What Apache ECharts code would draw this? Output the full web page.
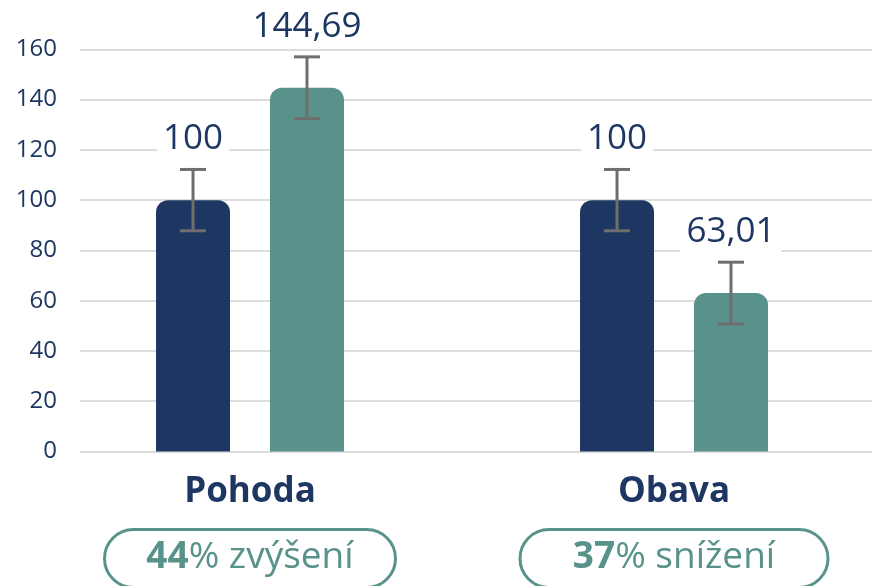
<!DOCTYPE html>
<html><head><meta charset="utf-8">
<script src="https://cdn.jsdelivr.net/npm/echarts@6/dist/echarts.min.js"></script>
<style>html,body{margin:0;padding:0;background:#fff}#c{width:872px;height:586px}</style>
</head><body><div id="c"></div>
<script>
// ---- data ----
const categories = ['Pohoda', 'Obava'];
const valuesA = [100, 100];
const valuesB = [144.69, 63.01];
const errA = [12.2, 12.2];
const errB = [12.3, 12.3];
const labelsA = ['100', '100'];
const labelsB = ['144,69', '63,01'];
const yTicks = [0, 20, 40, 60, 80, 100, 120, 140, 160];
const changeNumber = ['44', '37'];
const changeText = ['% zvýšení', '% snížení'];

// ---- style ----
const NAVY = '#1e3762';
const TEAL = '#58928b';
const FONT = '"Open Sans", "Noto Sans", sans-serif';
const BAR_W = 74;
const BAR_GAP = 0.54;
const OFFSET = BAR_W * (1 + BAR_GAP) / 2;
const PILL_W = [291, 308];
// category band of 424px, first centre at 250px: x axis spans -0.5 .. 1.467 over 834px
const X_MIN = -0.5, X_MAX = -0.5 + 834 / 424;

const chart = echarts.init(document.getElementById('c'), null, {renderer: 'canvas'});

function barSeries(values, color, sign) {
  return {
    type: 'custom', xAxisIndex: 1, yAxisIndex: 1, clip: false, z: 3,
    data: values.map((v, i) => [i, v]),
    renderItem: function (params, api) {
      const i = api.value(0), v = api.value(1);
      const top = api.coord([i, v]);
      const base = api.coord([i, 0]);
      const x = top[0] + sign * OFFSET - BAR_W / 2;
      return {
        type: 'rect',
        shape: {x: x, y: top[1], width: BAR_W, height: base[1] - top[1], r: [12, 12, 0, 0]},
        style: {fill: color}
      };
    }
  };
}

function errSeries(values, errs, labels, sign) {
  return {
    type: 'custom',
    xAxisIndex: 1, yAxisIndex: 1,
    clip: false,
    z: 5,
    data: values.map((v, i) => [i, v, errs[i]]),
    renderItem: function (params, api) {
      const i = api.value(0), v = api.value(1), e = api.value(2);
      const c = api.coord([i, v]);
      const x = c[0] + sign * OFFSET;
      const yTop = api.coord([i, v + e])[1];
      const yBot = api.coord([i, v - e])[1];
      const cap = 13;
      const ls = {stroke: '#6f6f6f', lineWidth: 3};
      return {
        type: 'group',
        children: [
          {type: 'line', shape: {x1: x, y1: yTop, x2: x, y2: yBot}, style: ls},
          {type: 'line', shape: {x1: x - cap, y1: yTop, x2: x + cap, y2: yTop}, style: ls},
          {type: 'line', shape: {x1: x - cap, y1: yBot, x2: x + cap, y2: yBot}, style: ls},
          {type: 'text', style: {
            text: labels[params.dataIndex], x: x, y: yTop - 30,
            align: 'center', verticalAlign: 'middle',
            font: '35px ' + FONT, fill: NAVY,
            backgroundColor: '#fff', padding: [2, 6, 6, 6]
          }}
        ]
      };
    }
  };
}

const option = {
  animation: false,
  backgroundColor: '#fff',
  grid: [
    {left: 80, right: 0, top: 49.3, bottom: 134.5},
    {left: 38, right: 0, top: 49.3, bottom: 134.5}
  ],
  xAxis: [
    {gridIndex: 0, type: 'value', show: false, min: 0, max: 1},
    {gridIndex: 1, type: 'value', show: false, min: X_MIN, max: X_MAX}
  ],
  yAxis: [
    {gridIndex: 0, type: 'value', min: yTicks[0], max: yTicks[yTicks.length - 1], interval: yTicks[1] - yTicks[0],
     axisLine: {show: false}, axisTick: {show: false},
     axisLabel: {margin: 23, fontFamily: FONT, fontSize: 24, color: NAVY},
     splitLine: {lineStyle: {color: '#dcdcdc', width: 2}}},
    {gridIndex: 1, type: 'value', min: yTicks[0], max: yTicks[yTicks.length - 1], interval: yTicks[1] - yTicks[0], show: false,
     splitLine: {show: false}}
  ],
  series: [
    barSeries(valuesA, NAVY, -1),
    barSeries(valuesB, TEAL, 1),
    errSeries(valuesA, errA, labelsA, -1),
    errSeries(valuesB, errB, labelsB, 1)
  ]
};
chart.setOption(option);

const graphics = [];
categories.forEach((c, i) => {
  const cx = chart.convertToPixel({xAxisIndex: 1}, i);
  const w = PILL_W[i];
  graphics.push({
    type: 'text', x: cx, y: 492,
    style: {text: c, align: 'center', verticalAlign: 'middle', font: 'bold 35px ' + FONT, fill: NAVY}
  });
  graphics.push({
    type: 'rect', shape: {x: cx - w / 2, y: 529.5, width: w, height: 58, r: 29},
    style: {fill: '#fff', stroke: TEAL, lineWidth: 3}
  });
  graphics.push({
    type: 'text', x: cx, y: 557,
    style: {
      text: '{b|' + changeNumber[i] + '}{r|' + changeText[i] + '}',
      align: 'center', verticalAlign: 'middle',
      rich: {
        b: {font: 'bold 37px ' + FONT, fill: TEAL},
        r: {font: '37px ' + FONT, fill: TEAL}
      }
    }
  });
});
chart.setOption({graphic: graphics});
</script>
</body></html>
